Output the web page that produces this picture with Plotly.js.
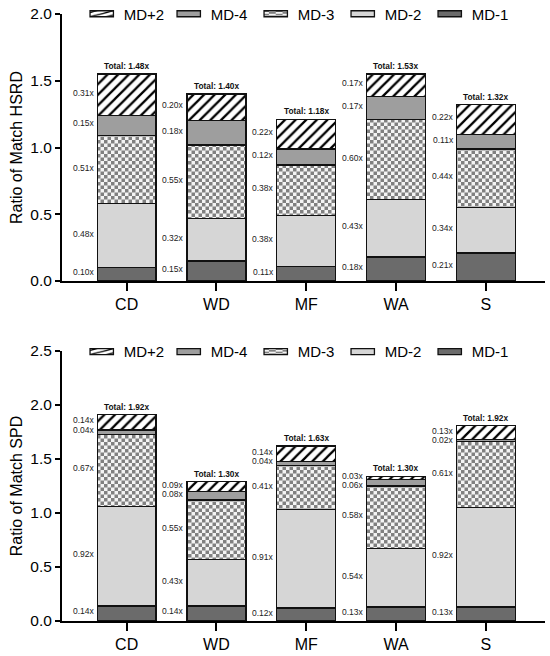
<!DOCTYPE html>
<html><head><meta charset="utf-8">
<script src="https://cdn.plot.ly/plotly-3.0.1.min.js"></script>
<style>body{margin:0;background:#fff}#chart{width:550px;height:656px}</style>
</head><body><div id="chart"></div>
<script>
const categories = ['CD','WD','MF','WA','S'];
const seriesNames = ['MD-1','MD-2','MD-3','MD-4','MD+2'];
// HSRD panel
const hsrdMD1  = [0.10,0.15,0.11,0.18,0.21];
const hsrdMD2  = [0.48,0.32,0.38,0.43,0.34];
const hsrdMD3  = [0.51,0.55,0.38,0.60,0.44];
const hsrdMD4  = [0.15,0.18,0.12,0.17,0.11];
const hsrdMDp2 = [0.31,0.20,0.22,0.17,0.22];
const hsrdTotals = ['1.48','1.40','1.18','1.53','1.32'];
// SPD panel
const spdMD1  = [0.14,0.14,0.12,0.13,0.13];
const spdMD2  = [0.92,0.43,0.91,0.54,0.92];
const spdMD3  = [0.67,0.55,0.41,0.58,0.61];
const spdMD4  = [0.04,0.08,0.04,0.06,0.02];
const spdMDp2 = [0.14,0.09,0.14,0.03,0.13];
const spdTotals = ['1.92','1.30','1.63','1.30','1.92'];
const yTicksTop = [0,0.5,1.0,1.5,2.0];
const yTicksBottom = [0,0.5,1.0,1.5,2.0,2.5];

const FONT = 'Arial, "Liberation Sans", sans-serif';
const H = 656, MT = 10, MB = 30;
const plotH = H - MT - MB;
const domTop = [0.560, 0.9935];
const domBot = [0.0081, 0.4464];
const bargap = 0.344;
const halfW = (1 - bargap) / 2;

const styles = [
  {marker:{color:'#6b6b6b'}},
  {marker:{color:'#d6d6d6'}},
  {marker:{color:'#ffffff', pattern:{shape:'.', fgcolor:'#8a8a8a', bgcolor:'#f4f4f4', size:7, solidity:0.5, fillmode:'replace'}}},
  {marker:{color:'#9e9e9e'}},
  {marker:{color:'#ffffff', pattern:{shape:'/', fgcolor:'#000000', bgcolor:'#ffffff', size:7.5, solidity:0.3, fillmode:'replace'}}}
];

function makeTraces(stacks, xa, ya, legend) {
  return stacks.map((vals, k) => {
    const m = JSON.parse(JSON.stringify(styles[k].marker));
    m.line = {color:'#111', width:1.3};
    return {type:'bar', x: categories.map((c,i)=>i), y: vals, name: seriesNames[k],
      xaxis: xa, yaxis: ya, legend: legend, marker: m, hoverinfo:'skip'};
  });
}

const topStacks = [hsrdMD1, hsrdMD2, hsrdMD3, hsrdMD4, hsrdMDp2];
const botStacks = [spdMD1, spdMD2, spdMD3, spdMD4, spdMDp2];
const data = makeTraces(topStacks, 'x', 'y', 'legend').concat(makeTraces(botStacks, 'x2', 'y2', 'legend2'));

function makeLabels(stacks, totals, xref, yref, pxPerUnit) {
  const ann = [];
  categories.forEach((c, i) => {
    let base = 0; const centers = [];
    stacks.forEach(s => { centers.push(base + s[i] / 2); base += s[i]; });
    const minGap = 9.5 / pxPerUnit;
    for (let k = stacks.length - 2; k >= 0; k--) {
      if (centers[k] > centers[k+1] - minGap) centers[k] = centers[k+1] - minGap;
    }
    stacks.forEach((s, k) => {
      ann.push({xref, yref, x: i - halfW, y: centers[k], text: s[i].toFixed(2) + 'x',
        xanchor:'right', yanchor:'middle', xshift:-0.5, yshift:2, showarrow:false,
        font:{family:FONT, size:8.5, color:'#222'}});
    });
    ann.push({xref, yref, x: i, y: base, text: '<b>Total: ' + totals[i] + 'x</b>',
      xanchor:'center', yanchor:'bottom', yshift:1, showarrow:false,
      font:{family:FONT, size:8.3, color:'#111'}});
  });
  return ann;
}

const pxTop = (domTop[1]-domTop[0]) * plotH / 2.0;
const pxBot = (domBot[1]-domBot[0]) * plotH / 2.5;
const annotations = makeLabels(topStacks, hsrdTotals, 'x', 'y', pxTop)
  .concat(makeLabels(botStacks, spdTotals, 'x2', 'y2', pxBot));

const xCommon = {range:[-0.72,4.66], tickmode:'array', tickvals: categories.map((c,i)=>i), ticktext: categories,
  showline:true, linewidth:2, linecolor:'#000', ticks:'outside', ticklen:8, tickwidth:2, tickcolor:'#000',
  showgrid:false, zeroline:false, tickfont:{family:FONT, size:16, color:'#000'}, fixedrange:true};
const yCommon = {showline:true, linewidth:2, linecolor:'#000', ticks:'outside', ticklen:5, tickwidth:2, tickcolor:'#000',
  showgrid:false, zeroline:false, tickformat:'.1f', tickfont:{family:FONT, size:15.5, color:'#000'}, fixedrange:true};

const legendCommon = {orientation:'h', traceorder:'reversed', xanchor:'left', yanchor:'middle', x:0.045,
  bgcolor:'rgba(0,0,0,0)', font:{family:FONT, size:15, color:'#000'}, entrywidth:42, entrywidthmode:'pixels', itemclick:false, itemdoubleclick:false};

const layout = {
  width:550, height:656, margin:{l:62, r:5, t:MT, b:MB, autoexpand:false},
  paper_bgcolor:'#fff', plot_bgcolor:'#fff', barmode:'stack', bargap: bargap,
  showlegend:true,
  xaxis: Object.assign({}, xCommon, {anchor:'y', domain:[0,1]}),
  xaxis2: Object.assign({}, xCommon, {anchor:'y2', domain:[0,1]}),
  yaxis: Object.assign({}, yCommon, {anchor:'x', domain:domTop, range:[0,2.0], tickvals:yTicksTop,
    title:{text:'Ratio of Match HSRD', font:{family:FONT, size:16, color:'#000'}, standoff:4}}),
  yaxis2: Object.assign({}, yCommon, {anchor:'x2', domain:domBot, range:[0,2.5], tickvals:yTicksBottom,
    title:{text:'Ratio of Match SPD', font:{family:FONT, size:16, color:'#000'}, standoff:4}}),
  legend: Object.assign({}, legendCommon, {y:0.9935}),
  legend2: Object.assign({}, legendCommon, {y:0.445}),
  annotations: annotations
};

const gd = document.getElementById('chart');
Plotly.newPlot(gd, data, layout, {displayModeBar:false, staticPlot:true}).then(() => {
  try {
    const ns = 'http://www.w3.org/2000/svg';
    const defs = gd.querySelector('svg.main-svg defs');
    const pat = document.createElementNS(ns, 'pattern');
    pat.setAttribute('id', 'checkerMD3');
    pat.setAttribute('patternUnits', 'userSpaceOnUse');
    pat.setAttribute('width', '7'); pat.setAttribute('height', '7');
    [['0','0','7','7','#f4f4f4'],['0','0','3.5','3.5','#808080'],['3.5','3.5','3.5','3.5','#808080']].forEach(r => {
      const e = document.createElementNS(ns, 'rect');
      e.setAttribute('x', r[0]); e.setAttribute('y', r[1]); e.setAttribute('width', r[2]); e.setAttribute('height', r[3]);
      e.setAttribute('fill', r[4]); pat.appendChild(e);
    });
    defs.appendChild(pat);
    const nameOf = el => { const d = el.__data__; if (!d) return null; const f = Array.isArray(d) ? d[0] : d; if (!f) return null; if (f.trace) return f.trace.name; if (Array.isArray(f) && f[0] && f[0].trace) return f[0].trace.name; return null; };
    gd.querySelectorAll('.barlayer .trace').forEach(tr => { if (nameOf(tr) === 'MD-3') tr.querySelectorAll('path').forEach(p => { p.style.fill = 'url(#checkerMD3)'; }); });
    gd.querySelectorAll('.infolayer .traces').forEach(tr => {
      const isChk = nameOf(tr) === 'MD-3';
      tr.querySelectorAll('.legendpoints path').forEach(p => {
        if (isChk) p.style.fill = 'url(#checkerMD3)';
        p.setAttribute('transform', 'translate(18,0) scale(1.95,0.5)');
        p.style.vectorEffect = 'non-scaling-stroke';
      });
    });
  } catch (e) { }
});
</script>
</body></html>
